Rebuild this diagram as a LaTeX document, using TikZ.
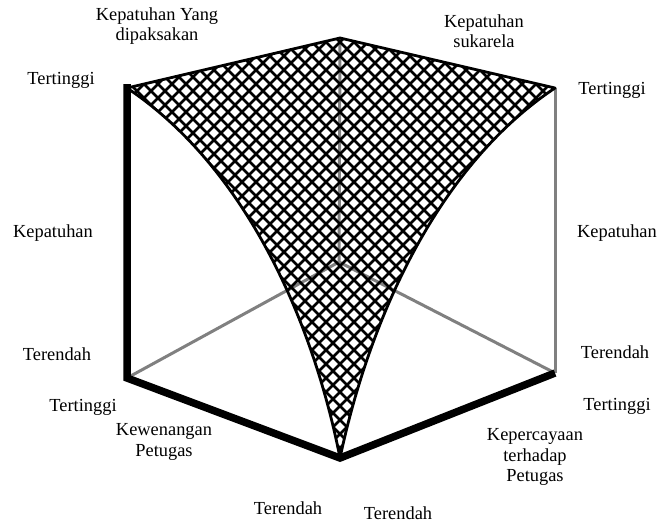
\documentclass[tikz,border=0pt]{standalone}
\usepackage{fontspec}
\setmainfont{Liberation Serif}

\begin{document}
\begin{tikzpicture}[
  x=1pt, y=-1pt,
  lbl/.style={font=\fontsize{18.4}{20.5}\selectfont, align=center, inner sep=0pt},
  backline/.style={draw=black!50, line width=3pt},
  axisline/.style={draw=black, line width=7.5pt, line join=miter},
  rim/.style={draw=black, line width=2.8pt, line join=round},
  hatch/.style={draw=black, line width=2.6pt}
]
\useasboundingbox[fill=white] (0,0) rectangle (658,523);

% corners of the box
\coordinate (topleft) at (127,88);
\coordinate (peak) at (340,38);
\coordinate (topright) at (555,88);
\coordinate (tip) at (340,458);
\coordinate (back) at (339,262);
\coordinate (lowleft) at (127,378);
\coordinate (lowright) at (555,373);
\coordinate (barend) at (127,84);

% hidden edges
\draw[backline] (lowleft) -- (back) -- (lowright);
\draw[backline] (peak) -- (back);
\draw[backline] (topright) -- (lowright);

% the compliance surface
\begin{scope}
  \clip (topleft) -- (peak) -- (topright)
    .. controls (432,170) and (367,330) .. (tip)
    .. controls (315,330) and (250,170) .. (topleft) -- cycle;
  \foreach \c in {-500,-486,...,700}
    \draw[hatch] (\c,0) -- ++(560,560);
  \foreach \c in {4,18,...,1200}
    \draw[hatch] (\c,0) -- ++(-560,560);
\end{scope}
\draw[rim] (topleft) -- (peak) -- (topright)
  .. controls (432,170) and (367,330) .. (tip)
  .. controls (315,330) and (250,170) .. (topleft);

% front axes
\draw[axisline] (barend) -- (lowleft) -- (tip) -- (lowright);

% labels
\node[lbl] (forced) at (157,26) {Kepatuhan Yang\\dipaksakan};
\node[lbl] (voluntary) at (484,31) {Kepatuhan\\sukarela};
\node[lbl] (highL) at (61,80) {Tertinggi};
\node[lbl] (compL) at (53,233) {Kepatuhan};
\node[lbl] (lowL) at (57,354) {Terendah};
\node[lbl] (highR) at (612,90) {Tertinggi};
\node[lbl] (compR) at (617,233) {Kepatuhan};
\node[lbl] (lowR) at (615,352) {Terendah};
\node[lbl] (powerhigh) at (83,407) {Tertinggi};
\node[lbl] (power) at (164,442) {Kewenangan\\Petugas};
\node[lbl] (powerlow) at (288,508) {Terendah};
\node[lbl] (trustlow) at (398,513) {Terendah};
\node[lbl] (trust) at (535,457) {Kepercayaan\\terhadap\\Petugas};
\node[lbl] (trusthigh) at (617,406) {Tertinggi};

\end{tikzpicture}
\end{document}
